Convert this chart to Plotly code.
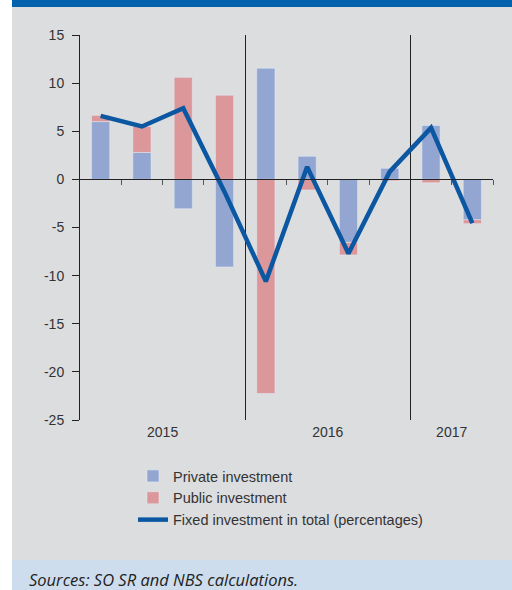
import plotly.graph_objects as go

quarters = ["2015 Q1", "2015 Q2", "2015 Q3", "2015 Q4",
            "2016 Q1", "2016 Q2", "2016 Q3", "2016 Q4",
            "2017 Q1", "2017 Q2"]
private_inv = [6.0, 2.8, -3.05, -9.1, 11.55, 2.4, -6.55, 1.15, 5.6, -4.2]
public_inv = [0.65, 2.7, 10.6, 8.75, -22.25, -1.1, -1.3, -0.15, -0.35, -0.4]
total_inv = [6.6, 5.5, 7.4, -1.3, -10.6, 1.3, -7.7, 0.8, 5.35, -4.55]
year_labels = ["2015", "2016", "2017"]
year_centers = [1.5, 5.5, 8.5]
year_bounds = [3.5, 7.5]
quarter_bounds = [0.5, 1.5, 2.5, 4.5, 5.5, 6.5, 8.5, 9.5]
y_tickvals = [15, 10, 5, 0, -5, -10, -15, -20, -25]
y_ticktext = ["15", "10", "5", "0", "-5", "-10", "-15", "-20", "-25"]

xs = list(range(len(quarters)))

W, H = 512, 590
ML, MR, MT, MB = 80, 19, 35, 170
PW = W - ML - MR
PH = H - MT - MB


def px_x(px):
    return (px - ML) / PW


def px_y(py):
    return (H - MB - py) / PH


BG = "#DCDDDF"
FONT = "Liberation Sans, Arial, sans-serif"
TXT = "#333333"

fig = go.Figure()
fig.add_trace(go.Bar(x=xs, y=private_inv, name="Private investment",
                     marker_color="#92A6D1", width=0.44, legendgroup="a"))
fig.add_trace(go.Bar(x=xs, y=public_inv, name="Public investment",
                     marker_color="#DB979A", width=0.44, legendgroup="b"))
fig.add_trace(go.Scatter(x=xs, y=total_inv, mode="lines",
                         name="Fixed investment in total (percentages)",
                         line=dict(color="#0B57A2", width=4.5),
                         xaxis="x2", legendgroup="c"))

shapes = [
    dict(type="rect", xref="paper", yref="paper", x0=px_x(12), x1=px_x(512),
         y0=px_y(560), y1=px_y(7), fillcolor=BG, line_width=0, layer="below"),
    dict(type="rect", xref="paper", yref="paper", x0=px_x(12), x1=px_x(512),
         y0=px_y(7), y1=px_y(0), fillcolor="#0061AC", line_width=0, layer="below"),
    dict(type="rect", xref="paper", yref="paper", x0=px_x(12), x1=px_x(512),
         y0=px_y(590), y1=px_y(560), fillcolor="#CDDDEE", line_width=0, layer="below"),
]

fig.update_layout(
    width=W, height=H,
    margin=dict(l=ML, r=MR, t=MT, b=MB),
    paper_bgcolor="white",
    plot_bgcolor="rgba(0,0,0,0)",
    barmode="relative",
    showlegend=True,
    font=dict(family=FONT, size=14, color=TXT),
    shapes=shapes,
    xaxis=dict(range=[-0.5, 9.5], tickvals=year_centers, ticktext=year_labels,
               showline=False, showgrid=False, zeroline=False, ticks="",
               tickfont=dict(size=14, color=TXT), ticklabelstandoff=2,
               minor=dict(tickvals=year_bounds, showgrid=True,
                          gridcolor="#222222", gridwidth=1)),
    xaxis2=dict(range=[-0.5, 9.5], overlaying="x", anchor="free",
                position=25 / 40, side="bottom",
                showline=True, linecolor="#222222", linewidth=1,
                tickvals=quarter_bounds, ticks="outside", ticklen=5,
                tickcolor="#555555", showticklabels=False,
                showgrid=False, zeroline=False),
    yaxis=dict(range=[-25, 15], tickvals=y_tickvals, ticktext=y_ticktext,
               showline=True, linecolor="#222222",
               linewidth=1, ticks="outside", ticklen=7, tickcolor="#222222",
               showgrid=False, zeroline=False,
               tickfont=dict(size=14, color=TXT), ticklabelstandoff=5),
    legend=dict(x=px_x(133), y=px_y(460), xanchor="left", yanchor="top",
                bgcolor="rgba(0,0,0,0)", tracegroupgap=0,
                font=dict(size=14.5, color=TXT)),
    annotations=[dict(text="<i>Sources: SO SR and NBS calculations.</i>",
                      xref="paper", yref="paper", x=px_x(27), y=px_y(579),
                      xanchor="left", yanchor="middle", showarrow=False,
                      font=dict(family="Open Sans, sans-serif", size=16.5,
                                color="#222222"))],
)

fig.write_html("out.html")
